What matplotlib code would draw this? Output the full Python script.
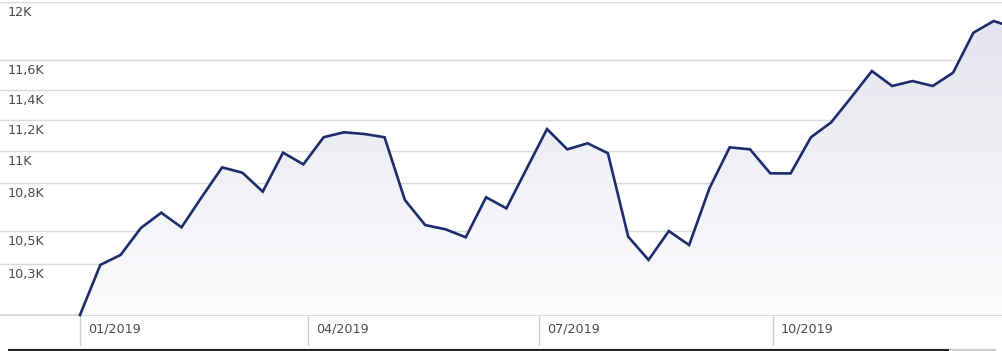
import numpy as np
import pandas as pd
import matplotlib
matplotlib.use("Agg")
import matplotlib.pyplot as plt
import matplotlib.dates as mdates
from matplotlib.lines import Line2D

# ---- data ----
dates = list(pd.date_range("2019-01-01", periods=46, freq="8D")) + [pd.Timestamp("2019-12-31")]
values = [10000, 10296, 10356, 10520, 10614, 10524, 10712, 10898, 10864, 10745,
          10992, 10917, 11091, 11123, 11112, 11091, 10693, 10538, 10512, 10463,
          10710, 10641, 10890, 11144, 11013, 11052, 10988, 10467, 10326, 10501,
          10416, 10766, 11026, 11013, 10860, 10860, 11091, 11188, 11354, 11527,
          11427, 11460, 11427, 11516, 11787, 11868, 11845]
ytick_vals = [10300, 10500, 10800, 11000, 11200, 11400, 11600, 12000]
ytick_labels = ["10,3K", "10,5K", "10,8K", "11K", "11,2K", "11,4K", "11,6K", "12K"]
xtick_dates = [pd.Timestamp("2019-01-01"), pd.Timestamp("2019-04-01"),
               pd.Timestamp("2019-07-01"), pd.Timestamp("2019-10-01")]
xtick_labels = ["01/2019", "04/2019", "07/2019", "10/2019"]

W, H = 1003, 351
fig = plt.figure(figsize=(W / 100, H / 100), dpi=100)
fig.patch.set_facecolor("white")
ax = fig.add_axes([0, 1 - 315 / H, 1, (315 - 2) / H])
ax.set_facecolor("white")
for s in ax.spines.values():
    s.set_visible(False)

x = mdates.date2num(dates)
x0 = mdates.date2num(pd.Timestamp("2019-01-01"))
pxday = 2.538
ax.set_yscale("log")
ax.set_xticks([])
ax.set_yticks([])
ax.minorticks_off()

# gridlines + labels
for v, lab in zip(ytick_vals, ytick_labels):
    ax.axhline(v, color="#dadada", lw=1.0, zorder=1)
    ax.annotate(lab, xy=(0, v), xycoords=ax.get_yaxis_transform(),
                xytext=(8, -4), textcoords="offset pixels",
                ha="left", va="top", fontsize=9.2, color="#4a4a4a",
                family="DejaVu Sans", zorder=5)
ax.axhline(10000, color="#d4d4d4", lw=1.2, zorder=1, clip_on=False)

# gradient fill under the line
poly = ax.fill_between(x, values, 10000, color="none", lw=0, zorder=2)
grad = np.linspace(0, 1, 256).reshape(-1, 1)
c_top = np.array([226, 227, 236]) / 255
c_bot = np.array([251, 251, 253]) / 255
img = c_bot + (c_top - c_bot) * grad
img = img.reshape(256, 1, 3)
im = ax.imshow(img, extent=[x[0], x[-1], 10000, 12000], origin="lower",
               aspect="auto", zorder=2, interpolation="bilinear")
path = poly.get_paths()[0]
im.set_clip_path(path, transform=ax.transData)
ax.set_xlim(x0 - 80 / pxday, x0 + (1003 - 80) / pxday)
ax.set_ylim(10000, 12000)

ax.plot(x, values, color="#1f2c6b", lw=1.9, zorder=4, solid_joinstyle="miter",
        clip_on=False)

# x ticks (below axis)
for d, lab in zip(xtick_dates, xtick_labels):
    xd = mdates.date2num(d)
    ax.plot([xd, xd], [0, -30 / 313], transform=ax.get_xaxis_transform(),
            color="#d0d0d0", lw=1.0, clip_on=False, zorder=1)
    ax.annotate(lab, xy=(xd, 0), xycoords=ax.get_xaxis_transform(),
                xytext=(8, -7), textcoords="offset pixels",
                ha="left", va="top", fontsize=9.2, color="#4a4a4a",
                family="DejaVu Sans")

# bottom border lines
fig.add_artist(Line2D([9 / W, 950 / W], [1 - 350 / H, 1 - 350 / H],
                      color="#222222", lw=1.5, transform=fig.transFigure))
fig.add_artist(Line2D([950 / W, 995 / W], [1 - 350 / H, 1 - 350 / H],
                      color="#cccccc", lw=1.5, transform=fig.transFigure))

fig.savefig("out.png", dpi=100, facecolor="white")
